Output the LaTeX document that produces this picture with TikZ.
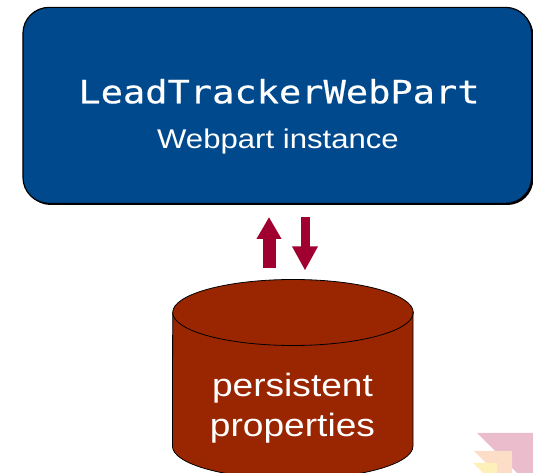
\documentclass[tikz,border=0pt]{standalone}
\usepackage{fontspec}
\setmainfont{Liberation Sans}
\newfontfamily\codefont[FakeStretch=1.157,FakeBold=0.5]{DejaVu Sans Mono}
\newfontfamily\widesans[FakeStretch=1.15]{Liberation Sans}
\usetikzlibrary{arrows.meta}
\definecolor{wpblue}{RGB}{0,73,141}
\definecolor{arrowred}{RGB}{160,0,48}
\definecolor{cylred}{RGB}{153,38,0}
\definecolor{wmpink}{RGB}{234,188,204}
\definecolor{wmorange}{RGB}{251,221,200}
\definecolor{wmyellow}{RGB}{255,240,185}
\tikzset{
  wpbox/.style={draw=black, line width=0.9pt, fill=wpblue, rounded corners=19.5pt,
    minimum width=381.5pt, minimum height=147pt, inner sep=0pt},
  boxshadow/.style={fill=black, rounded corners=19.5pt,
    minimum width=381.5pt, minimum height=147pt, inner sep=0pt},
  wtext/.style={text=white, inner sep=0pt, anchor=base},
  cylbody/.style={fill=cylred, draw=black, line width=0.6pt},
  uparrow/.style={draw=arrowred, line width=9.75pt, -{Triangle[length=16.5pt,width=17.6pt]}},
  downarrow/.style={draw=arrowred, line width=6.75pt, -{Triangle[length=18pt,width=18pt]}}
}
\begin{document}
\begin{tikzpicture}[x=0.75pt,y=-0.75pt]
\useasboundingbox (0,0) rectangle (533,473);
\clip (0,0) rectangle (533,473);

% watermark
\fill[wmpink] (477,433) -- (533,433) -- (533,473) -- (517,473) -- cycle;
\fill[wmorange] (474,451) -- (512,451) -- (512,473) -- (496,473) -- cycle;
\fill[wmyellow] (473,463) -- (497,463) -- (497,473) -- (483,473) -- cycle;

% web part box
\node[boxshadow] (wpshadow) at (279,107) {};
\node[wpbox] (wp) at (277.3,105.4) {};
\node[wtext, font=\codefont\fontsize{24pt}{28pt}\selectfont] (wpname) at (279,103.3) {LeadTrackerWebPart};
\node[wtext, font=\widesans\fontsize{20.3pt}{24pt}\selectfont] (wpsub) at (278,149) {Webpart instance};

% cylinder
\path[cylbody] (413,312.5) -- (413,446) arc[start angle=0, end angle=180, x radius=120.3, y radius=33]
  -- (172.7,312.5) arc[start angle=180, end angle=360, x radius=120.3, y radius=33] -- cycle;
\draw[black, line width=0.6pt] (172.7,312.5) arc[start angle=180, end angle=0, x radius=120.3, y radius=33];
\node[wtext, font=\widesans\fontsize{24.2pt}{28pt}\selectfont] (pp1) at (292.5,396.7) {persistent};
\node[wtext, font=\widesans\fontsize{24.2pt}{28pt}\selectfont] (pp2) at (292.5,437) {properties};

% arrows
\coordinate (upS) at (269,268);
\coordinate (upT) at (269,217);
\coordinate (dnS) at (305,217);
\coordinate (dnT) at (305,270.5);
\draw[uparrow] (upS) -- (upT);
\draw[downarrow] (dnS) -- (dnT);
\end{tikzpicture}
\end{document}
